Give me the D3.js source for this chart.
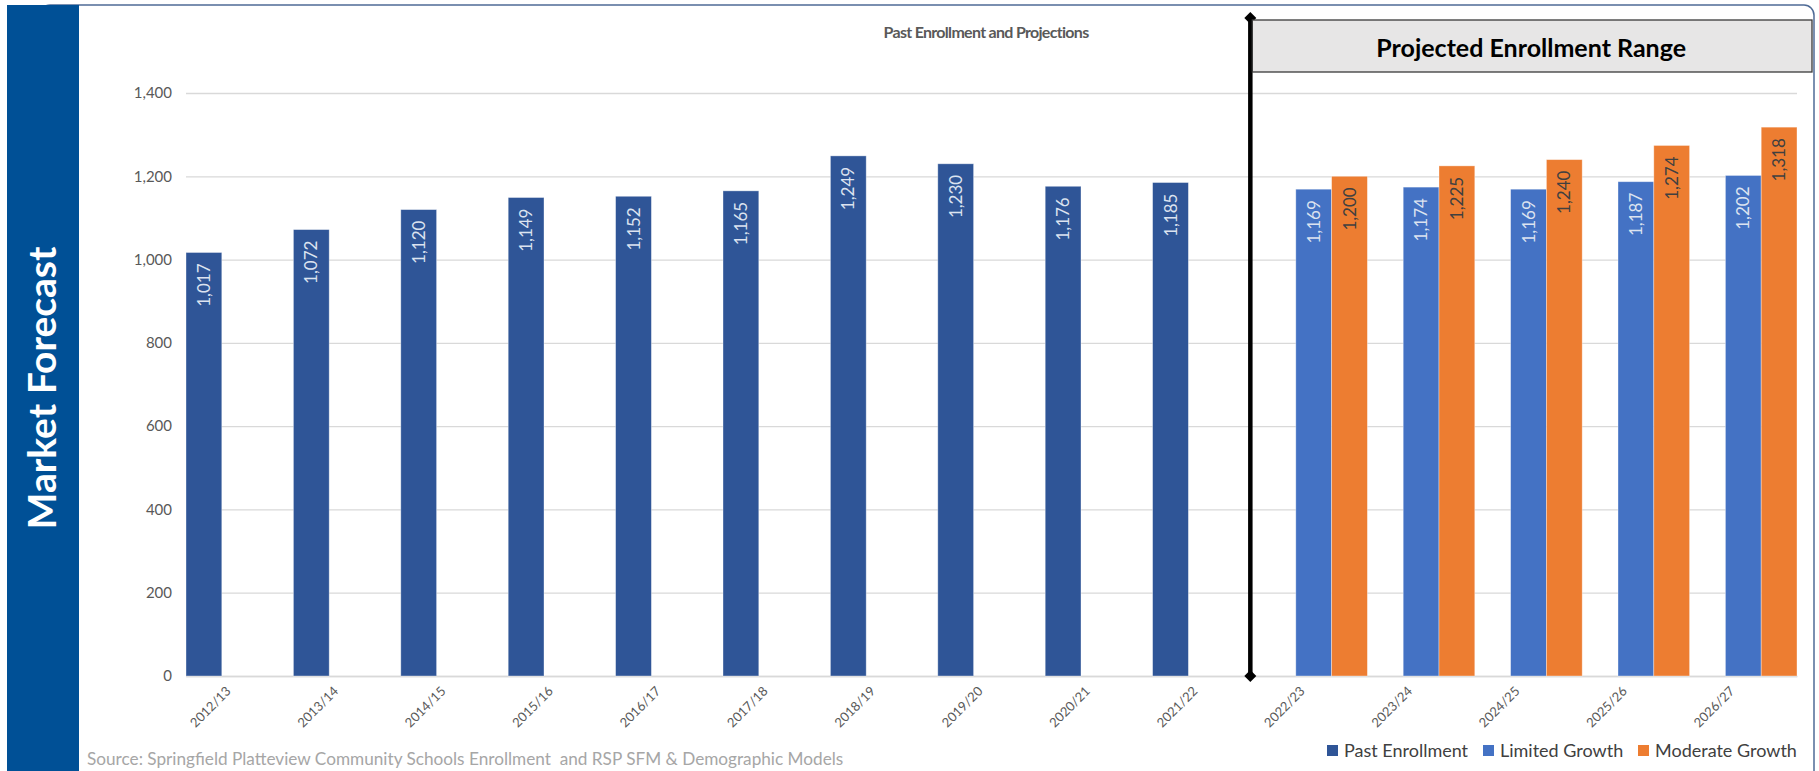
<!DOCTYPE html>
<html>
<head>
<meta charset="utf-8">
<script src="https://cdn.jsdelivr.net/npm/d3@7"></script>
<style>
	body { margin: 0; background: #ffffff; }
	svg text { font-family: "Lato", "Open Sans", sans-serif; }
</style>
</head>
<body>
<div id="chart"></div>
<script>

// data

var categories = ["2012/13", "2013/14", "2014/15", "2015/16", "2016/17", "2017/18", "2018/19", "2019/20",
	"2020/21", "2021/22", "2022/23", "2023/24", "2024/25", "2025/26", "2026/27"];

var pastEnrollment = [1017, 1072, 1120, 1149, 1152, 1165, 1249, 1230, 1176, 1185, null, null, null, null, null];

var limitedGrowth = [null, null, null, null, null, null, null, null, null, null, 1169, 1174, 1169, 1187, 1202];

var moderateGrowth = [null, null, null, null, null, null, null, null, null, null, 1200, 1225, 1240, 1274, 1318];

var seriesNames = ["Past Enrollment", "Limited Growth", "Moderate Growth"];

var yTicks = [0, 200, 400, 600, 800, 1000, 1200, 1400];

var seriesColors = ["#2f5597", "#4472c4", "#ed7d31"];
var labelColors = ["#dce3f0", "#dce3f0", "#404040"];

var width = 1819, height = 771;

var svg = d3.select("#chart")
			.append("svg:svg")
			.attr("width", width)
			.attr("height", height);

// frame and side band

svg.append("svg:rect")
	.attr("x", 40)
	.attr("y", 5)
	.attr("width", 1774)
	.attr("height", 790)
	.attr("rx", 10)
	.style("fill", "white")
	.style("stroke", "#4f6b96")
	.style("stroke-width", 1.5);

svg.append("svg:rect")
	.attr("x", 7)
	.attr("y", 5)
	.attr("width", 72)
	.attr("height", height)
	.style("fill", "#005096");

svg.append("svg:text")
	.attr("transform", "translate(56,388) rotate(-90)")
	.attr("text-anchor", "middle")
	.text("Market Forecast")
	.style("font-size", "39px")
	.style("font-weight", "bold")
	.style("fill", "white");

// scales

var x = d3.scaleBand()
	.domain(categories)
	.range([186, 1797])
	.padding(0);

var xSeries = d3.scaleBand()
	.domain(seriesNames)
	.range([0, x.bandwidth()])
	.padding(0);

var y = d3.scaleLinear()
	.domain([0, 1400])
	.range([676, 93]);

// grid

var yAxis = d3.axisLeft(y)
	.tickValues(yTicks)
	.tickSize(-(1797 - 186))
	.tickPadding(14)
	.tickFormat(d3.format(","));

var gy = svg.append("g")
	.attr("transform", "translate(186,0)")
	.call(yAxis);

gy.select(".domain").remove();
gy.selectAll(".tick line").style("stroke", "#d9d9d9").style("stroke-width", 1.3);
gy.selectAll(".tick text")
	.style("font-size", "15px")
	.style("fill", "#595959");

var xAxis = d3.axisBottom(x).tickSize(0).tickFormat(function(d) { return d; });

var gx = svg.append("g")
	.attr("transform", "translate(0,676)")
	.call(xAxis);

gx.select(".domain").style("stroke", "#d9d9d9").style("stroke-width", 1.3);
gx.selectAll(".tick text")
	.attr("text-anchor", "end")
	.attr("dy", null)
	.attr("y", 0)
	.attr("transform", "translate(-8,16) rotate(-45)")
	.style("font-size", "13px")
	.style("fill", "#595959");

// bars

var seriesData = [pastEnrollment, limitedGrowth, moderateGrowth];

seriesData.forEach(function(values, s) {

	var pts = values.map(function(v, i) { return {cat: categories[i], value: v}; })
					.filter(function(d) { return d.value != null; });

	svg.append("g").selectAll("rect")
		.data(pts)
		.enter()
		.append("svg:rect")
		.attr("x", function(d) { return x(d.cat) + xSeries(seriesNames[s]); })
		.attr("y", function(d) { return y(d.value); })
		.attr("width", xSeries.bandwidth())
		.attr("height", function(d) { return y(0) - y(d.value); })
		.style("fill", seriesColors[s])
		.style("stroke", "rgba(255,255,255,0.45)")
		.style("stroke-width", 0.8);

	svg.append("g").selectAll("text")
		.data(pts)
		.enter()
		.append("svg:text")
		.attr("transform", function(d) {
			var cx = x(d.cat) + xSeries(seriesNames[s]) + xSeries.bandwidth() / 2;
			return "translate(" + (cx + 6) + "," + (y(d.value) + 11) + ") rotate(-90)";
		})
		.attr("text-anchor", "end")
		.text(function(d) { return d3.format(",")(d.value); })
		.style("font-size", "17px")
		.style("fill", labelColors[s]);
});

// titles

svg.append("svg:text")
	.attr("x", 986)
	.attr("y", 38)
	.attr("text-anchor", "middle")
	.text("Past Enrollment and Projections")
	.style("font-size", "16px")
	.style("letter-spacing", "-0.7px")
	.style("font-weight", "bold")
	.style("fill", "#595959");

// divider between past and projected years

var divX = x("2021/22") + x.bandwidth() * 0.91;

svg.append("svg:line")
	.attr("x1", divX)
	.attr("x2", divX)
	.attr("y1", 18)
	.attr("y2", y(0))
	.style("stroke", "black")
	.style("stroke-width", 4.5);

[18, y(0)].forEach(function(py) {
	svg.append("svg:path")
		.attr("d", "M" + divX + "," + (py - 6) + " l6,6 l-6,6 l-6,-6 z")
		.style("fill", "black");
});

svg.append("svg:rect")
	.attr("x", divX + 2)
	.attr("y", 20)
	.attr("width", 1812 - divX - 2)
	.attr("height", 52)
	.style("fill", "#e7e6e6")
	.style("stroke", "#3a3a3a")
	.style("stroke-width", 1.3);

svg.append("svg:text")
	.attr("x", (divX + 1812) / 2)
	.attr("y", 57)
	.attr("text-anchor", "middle")
	.text("Projected Enrollment Range")
	.style("font-size", "25px")
	.style("font-weight", "bold")
	.style("fill", "black");

// legend

var legendX = [1327, 1483, 1638];

var legend = svg.append("g").selectAll("g")
	.data(seriesNames)
	.enter()
	.append("g")
	.attr("transform", function(d, i) { return "translate(" + legendX[i] + ",751)"; });

legend.append("svg:rect")
	.attr("x", 0)
	.attr("y", -6)
	.attr("width", 11)
	.attr("height", 11)
	.style("fill", function(d, i) { return seriesColors[i]; });

legend.append("svg:text")
	.attr("x", 17)
	.attr("y", 0)
	.attr("dy", ".35em")
	.text(function(d) { return d; })
	.style("font-size", "18px")
	.style("fill", "#404040");

// source note

svg.append("svg:text")
	.attr("x", 87)
	.attr("y", 765)
	.attr("xml:space", "preserve")
	.style("white-space", "pre")
	.text("Source: Springfield Platteview Community Schools Enrollment  and RSP SFM & Demographic Models")
	.style("font-size", "17.2px")
	.style("fill", "#a6a6a6");

</script>
</body>
</html>
